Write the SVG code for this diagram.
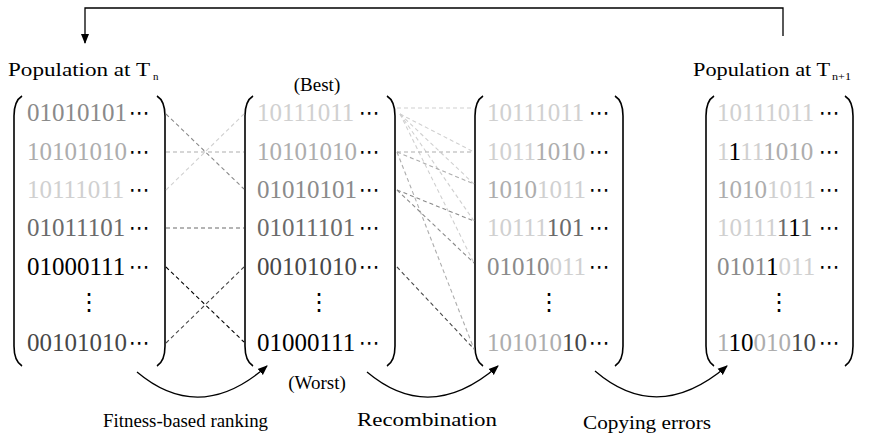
<svg xmlns="http://www.w3.org/2000/svg" width="869" height="434" viewBox="0 0 869 434">
<defs>
<marker id="ah" viewBox="0 0 10 10" refX="9" refY="5" markerWidth="10" markerHeight="10" markerUnits="userSpaceOnUse" orient="auto">
<path d="M0,1 L10,5 L0,9 Z" fill="#000"/>
</marker>
<style>
.bits{font-family:'Liberation Serif','DejaVu Serif',serif;font-size:25px;}
.dots{font-family:'DejaVu Sans',sans-serif;font-size:21px;fill:#000;}
.vd{font-family:'DejaVu Sans',sans-serif;font-size:24px;fill:#000;text-anchor:middle;}
.lbl{font-family:'Liberation Serif','DejaVu Serif',serif;font-size:19px;fill:#000;}
.sub{font-family:'Liberation Serif','DejaVu Serif',serif;font-size:11px;fill:#000;}
.par{fill:none;stroke:#000;stroke-width:1.6;}
.g20{fill:#d0d0d0}.g35{fill:#adadad}.g50{fill:#8a8a8a}.g60{fill:#6a6a6a}.g75{fill:#474747}.g100{fill:#000}
.dl{fill:none;stroke-width:1.1;stroke-dasharray:4 3;}
.s20{stroke:#d0d0d0}.s35{stroke:#adadad}.s50{stroke:#8a8a8a}.s60{stroke:#6a6a6a}.s75{stroke:#474747}.s100{stroke:#000}
.arc{fill:none;stroke:#000;stroke-width:1.3;marker-end:url(#ah);}
</style>
</defs>

<g id="titles">
<text class="lbl" x="8" y="76" font-size="20" textLength="142" lengthAdjust="spacingAndGlyphs">Population at T</text>
<text class="sub" x="153" y="80">n</text>
<text class="lbl" x="693" y="76" font-size="20" textLength="137" lengthAdjust="spacingAndGlyphs">Population at T</text>
<text class="sub" x="832" y="80" textLength="19" lengthAdjust="spacingAndGlyphs">n+1</text>
<text class="lbl" x="317" y="91" text-anchor="middle">(Best)</text>
<text class="lbl" x="317" y="389" text-anchor="middle">(Worst)</text>
<text class="lbl" x="103" y="427" font-size="18" textLength="165" lengthAdjust="spacingAndGlyphs">Fitness-based ranking</text>
<text class="lbl" x="357" y="426" font-size="20" textLength="140" lengthAdjust="spacingAndGlyphs">Recombination</text>
<text class="lbl" x="583" y="429" textLength="128" lengthAdjust="spacingAndGlyphs">Copying errors</text>
</g>

<g id="col1">
<path class="par" d="M22,96 Q14,101 14,116 L14,346 Q14,361 22,366"/>
<path class="par" d="M157,96 Q165,101 165,116 L165,346 Q165,361 157,366"/>
<text class="bits" x="27" y="121"><tspan class="g50">01010101</tspan></text>
<text class="bits" x="27" y="160"><tspan class="g35">10101010</tspan></text>
<text class="bits" x="27" y="198"><tspan class="g20">10111011</tspan></text>
<text class="bits" x="27" y="236"><tspan class="g60">01011101</tspan></text>
<text class="bits" x="27" y="275"><tspan class="g100">01000111</tspan></text>
<text class="bits" x="27" y="351"><tspan class="g75">00101010</tspan></text>
<text class="dots" x="129" y="120">⋯</text>
<text class="dots" x="129" y="159">⋯</text>
<text class="dots" x="129" y="197">⋯</text>
<text class="dots" x="129" y="235">⋯</text>
<text class="dots" x="129" y="274">⋯</text>
<text class="dots" x="129" y="350">⋯</text>
<text class="vd" x="89" y="310">⋮</text>
</g>

<g id="col2">
<path class="par" d="M253,96 Q245,101 245,116 L245,346 Q245,361 253,366"/>
<path class="par" d="M387,96 Q395,101 395,116 L395,346 Q395,361 387,366"/>
<text class="bits" x="257" y="121"><tspan class="g20">10111011</tspan></text>
<text class="bits" x="257" y="160"><tspan class="g35">10101010</tspan></text>
<text class="bits" x="257" y="198"><tspan class="g50">01010101</tspan></text>
<text class="bits" x="257" y="236"><tspan class="g60">01011101</tspan></text>
<text class="bits" x="257" y="275"><tspan class="g75">00101010</tspan></text>
<text class="bits" x="257" y="351"><tspan class="g100">01000111</tspan></text>
<text class="dots" x="359" y="120">⋯</text>
<text class="dots" x="359" y="159">⋯</text>
<text class="dots" x="359" y="197">⋯</text>
<text class="dots" x="359" y="235">⋯</text>
<text class="dots" x="359" y="274">⋯</text>
<text class="dots" x="359" y="350">⋯</text>
<text class="vd" x="319" y="310">⋮</text>
</g>

<g id="col3">
<path class="par" d="M483,96 Q475,101 475,116 L475,346 Q475,361 483,366"/>
<path class="par" d="M615,96 Q623,101 623,116 L623,346 Q623,361 615,366"/>
<text class="bits" x="487" y="121"><tspan class="g20">10111011</tspan></text>
<text class="bits" x="487" y="160"><tspan class="g20">1011</tspan><tspan class="g35">1010</tspan></text>
<text class="bits" x="487" y="198"><tspan class="g35">1010</tspan><tspan class="g20">1011</tspan></text>
<text class="bits" x="487" y="236"><tspan class="g20">10111</tspan><tspan class="g60">101</tspan></text>
<text class="bits" x="487" y="275"><tspan class="g50">01010</tspan><tspan class="g20">011</tspan></text>
<text class="bits" x="487" y="351"><tspan class="g35">101010</tspan><tspan class="g75">10</tspan></text>
<text class="dots" x="589" y="120">⋯</text>
<text class="dots" x="589" y="159">⋯</text>
<text class="dots" x="589" y="197">⋯</text>
<text class="dots" x="589" y="235">⋯</text>
<text class="dots" x="589" y="274">⋯</text>
<text class="dots" x="589" y="350">⋯</text>
<text class="vd" x="549" y="310">⋮</text>
</g>

<g id="col4">
<path class="par" d="M714,96 Q706,101 706,116 L706,346 Q706,361 714,366"/>
<path class="par" d="M845,96 Q853,101 853,116 L853,346 Q853,361 845,366"/>
<text class="bits" x="717" y="121"><tspan class="g20">10111011</tspan></text>
<text class="bits" x="717" y="160"><tspan class="g20">1</tspan><tspan class="g100">1</tspan><tspan class="g20">11</tspan><tspan class="g35">1010</tspan></text>
<text class="bits" x="717" y="198"><tspan class="g35">1010</tspan><tspan class="g20">1011</tspan></text>
<text class="bits" x="717" y="236"><tspan class="g20">10111</tspan><tspan class="g60">1</tspan><tspan class="g100">1</tspan><tspan class="g60">1</tspan></text>
<text class="bits" x="717" y="275"><tspan class="g50">0101</tspan><tspan class="g100">1</tspan><tspan class="g20">011</tspan></text>
<text class="bits" x="717" y="351"><tspan class="g35">1</tspan><tspan class="g100">10</tspan><tspan class="g35">010</tspan><tspan class="g75">10</tspan></text>
<text class="dots" x="819" y="120">⋯</text>
<text class="dots" x="819" y="159">⋯</text>
<text class="dots" x="819" y="197">⋯</text>
<text class="dots" x="819" y="235">⋯</text>
<text class="dots" x="819" y="274">⋯</text>
<text class="dots" x="819" y="350">⋯</text>
<text class="vd" x="779" y="310">⋮</text>
</g>

<g id="connectors">
<line class="dl s50" x1="166" y1="114" x2="244" y2="189"/>
<line class="dl s35" x1="166" y1="152" x2="244" y2="152"/>
<line class="dl s20" x1="166" y1="190" x2="244" y2="114"/>
<line class="dl s60" x1="166" y1="228" x2="244" y2="228"/>
<line class="dl s100" x1="166" y1="267" x2="244" y2="342"/>
<line class="dl s75" x1="166" y1="343" x2="244" y2="267"/>

<line class="dl s20" x1="397" y1="108" x2="474" y2="108"/>
<line class="dl s20" x1="400" y1="114" x2="474" y2="152"/>
<line class="dl s20" x1="400" y1="114" x2="474" y2="184"/>
<line class="dl s20" x1="400" y1="114" x2="474" y2="221"/>
<line class="dl s20" x1="400" y1="114" x2="474" y2="263"/>
<line class="dl s35" x1="397" y1="152" x2="474" y2="152"/>
<line class="dl s35" x1="397" y1="152" x2="474" y2="184"/>
<line class="dl s35" x1="397" y1="152" x2="474" y2="349"/>
<line class="dl s50" x1="397" y1="190" x2="474" y2="221"/>
<line class="dl s50" x1="397" y1="190" x2="474" y2="263"/>
<line class="dl s75" x1="397" y1="267" x2="474" y2="349"/>

<path class="arc" d="M137,372 Q200,425 267,366"/>
<path class="arc" d="M367,372 Q430,425 498,366"/>
<path class="arc" d="M595,371 Q658,425 727,366"/>
<path class="arc" d="M783,36 V8 H85 V43"/>
</g>
</svg>
